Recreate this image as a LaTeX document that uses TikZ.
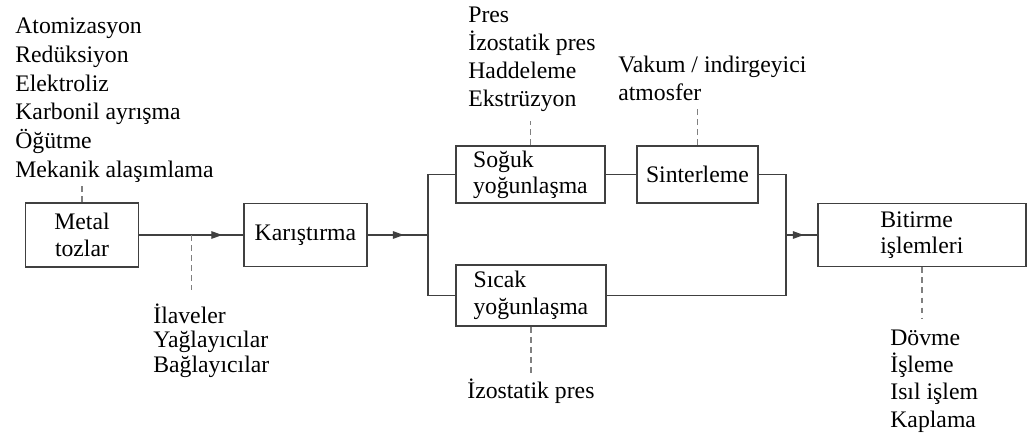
\documentclass[tikz,border=0pt]{standalone}
\usepackage{fontspec}
\setmainfont{Liberation Serif}
\usetikzlibrary{arrows.meta,calc,decorations.markings}

\begin{document}
\begin{tikzpicture}[
        x=0.02cm, y=-0.02cm,
        font=\fontsize{13.5}{15}\selectfont,
    ]

    \tikzstyle{box} = [rectangle, draw=black!75, line width=1.1pt, fill=white,
                       inner sep=2pt]
    \tikzstyle{line} = [draw=black!75, line width=0.8pt]
    \tikzstyle{dashline} = [line, draw=black!50, dash pattern=on 3.4pt off 2.3pt]
    % lists are placed by the baseline of their last line
    \tikzstyle{list} = [align=left, inner sep=0pt, anchor=base west]
    \tikzset{midarrow/.style={postaction={decorate}, decoration={markings,
             mark=at position #1 with {\arrow{Triangle[length=2.2mm, width=1.5mm]}}}}}

    \useasboundingbox (0,0) rectangle (1028,440);

    % Boxes
    \node[box, minimum width=2.26cm, minimum height=1.28cm, align=center] (metal) at (82,235) {Metal\\tozlar};
    \node[box, minimum width=2.46cm, minimum height=1.26cm, right of=metal, node distance=4.47cm] (karistirma) {Karıştırma};
    \node[box, minimum width=2.98cm, minimum height=1.14cm, align=left, right of=karistirma,
          node distance=4.5cm, yshift=1.21cm] (soguk) {Soğuk\\yoğunlaşma};
    \node[box, minimum width=2.42cm, minimum height=1.14cm, right of=soguk, node distance=3.34cm] (sinter) {Sinterleme};
    \node[box, minimum width=3cm, minimum height=1.22cm, align=left, right of=karistirma,
          node distance=4.51cm, yshift=-1.21cm] (sicak) {Sıcak\\yoğunlaşma};
    \node[box, minimum width=4.16cm, minimum height=1.26cm, align=left, right of=karistirma,
          node distance=12.33cm] (bitirme) {Bitirme\\işlemleri};

    % Lists
    \node[list, font=\fontsize{13.5}{16.3}\selectfont] (tozlist) at (15,177)
        {Atomizasyon\\Redüksiyon\\Elektroliz\\Karbonil ayrışma\\Öğütme\\Mekanik alaşımlama};
    \node[list, font=\fontsize{13.5}{15.9}\selectfont] (preslist) at (468,106)
        {Pres\\İzostatik pres\\Haddeleme\\Ekstrüzyon};
    \node[list, font=\fontsize{13.5}{15.9}\selectfont] (vakumlist) at (618,100)
        {Vakum / indirgeyici\\atmosfer};
    \node[list, font=\fontsize{13.5}{13.9}\selectfont] (ilavelist) at (153,372)
        {İlaveler\\Yağlayıcılar\\Bağlayıcılar};
    \node[list] (izolist) at (467,398) {İzostatik pres};
    \node[list, font=\fontsize{13.5}{15.5}\selectfont] (dovmelist) at (890,427)
        {Dövme\\İşleme\\Isıl işlem\\Kaplama};

    % Flow lines
    \draw[line, midarrow=0.8] (metal.east) -- coordinate[pos=0.5] (ilave) (karistirma.west);
    \draw[line, midarrow=0.6] (karistirma.east) -- ++(60,0) coordinate (ayrim);
    \draw[line] (soguk.west) -| (ayrim) |- (sicak.west);
    \draw[line] (soguk.east) -- (sinter.west);
    \coordinate (birlesim) at ($(bitirme.west)+(-31,0)$);
    \draw[line] (sinter.east) -| (birlesim) |- (sicak.east);
    \draw[line, midarrow=0.58] (birlesim) -- (bitirme.west);

    % Dashed leads
    \draw[dashline] (metal.north) -- ++(0,-18);
    \draw[dashline] (ilave) -- ++(0,55);
    \draw[dashline] (soguk.north) -- ++(0,-24);
    \draw[dashline] (sinter.north) -- ++(0,-39);
    \draw[dashline] (sicak.south) -- ++(0,49);
    \draw[dashline] (bitirme.south) -- ++(0,51);

\end{tikzpicture}
\end{document}
